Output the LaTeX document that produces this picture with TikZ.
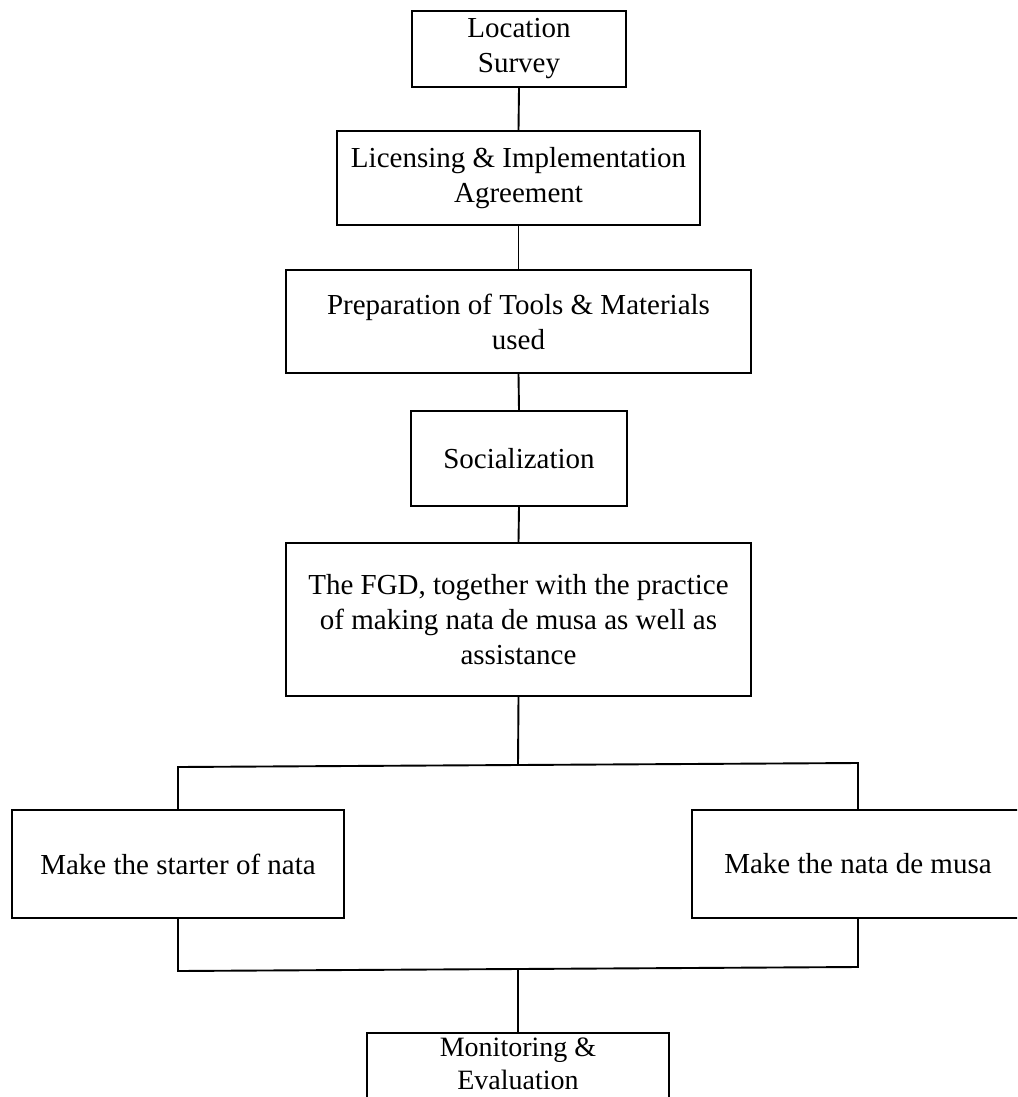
\documentclass[tikz,border=0pt]{standalone}
\usepackage{fontspec}
\setmainfont{Liberation Serif}
\begin{document}
\begin{tikzpicture}[x=1pt,y=-1pt,
  box/.style={draw=black, line width=1.9pt, fill=white, inner sep=0pt, align=center,
    font=\fontsize{29}{35}\selectfont},
  conn/.style={draw=black, line width=1.9pt}]
\useasboundingbox (0,0) rectangle (1017,1097);
\clip (0,0) rectangle (1017,1097);
\node[box, minimum width=214pt, minimum height=76pt] (loc) at (519,49) {Location\\Survey};
\node[box, minimum width=363pt, minimum height=94pt] (lic) at (518.5,178) {Licensing \& Implementation\\Agreement};
\node[box, minimum width=465pt, minimum height=103pt] (prep) at (518.5,321.5) {Preparation of Tools \& Materials\\used};
\node[box, minimum width=216pt, minimum height=95pt] (soc) at (519,458.5) {Socialization};
\node[box, minimum width=465pt, minimum height=153pt] (fgd) at (518.5,619.5) {The FGD, together with the practice\\of making nata de musa as well as\\assistance};
\node[box, minimum width=332pt, minimum height=108pt] (left) at (178,864) {Make the starter of nata};
\node[box, minimum width=332pt, minimum height=108pt] (right) at (858,864) {Make the nata de musa};
\node[box, anchor=north, minimum width=302pt, inner ysep=5pt, text depth=90pt,
  font=\fontsize{28}{33}\selectfont] (me) at (518,1032) {Monitoring \&\\Evaluation};
\coordinate (j1) at (518,765);
\coordinate (jl) at (178,767);
\coordinate (jr) at (858,763);
\coordinate (bl) at (178,971);
\coordinate (br) at (858,967);
\coordinate (j2) at (518,969);
\draw[conn] (loc.south) -- (lic.north);
\draw[conn] (lic.south) -- (prep.north);
\draw[conn] (prep.south) -- (soc.north);
\draw[conn] (soc.south) -- (fgd.north);
\draw[conn] (fgd.south) -- (j1);
\draw[conn] (left.north) -- (jl) -- (jr) -- (right.north);
\draw[conn] (left.south) -- (bl) -- (br) -- (right.south);
\draw[conn] (j2) -- (me.north);
\end{tikzpicture}
\end{document}
